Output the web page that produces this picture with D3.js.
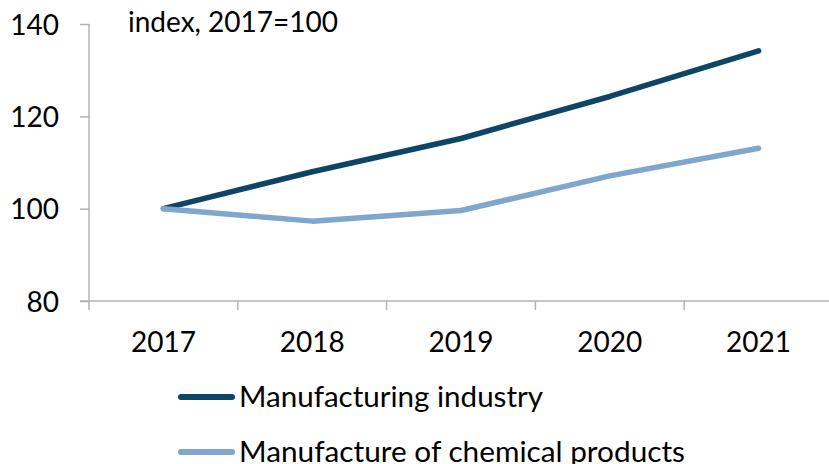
<!DOCTYPE html>
<html>
<head>
<meta charset="utf-8">
<script src="https://cdn.jsdelivr.net/npm/d3@7"></script>
<style>
  body { margin: 0; background: #fff; }
  text { font-family: Lato, "Open Sans", sans-serif; fill: #000; }
</style>
</head>
<body>
<script>
// date grafic
const years = ["2017", "2018", "2019", "2020", "2021"];
const manufacturing = [100, 108.0, 115.2, 124.3, 134.2];
const chemical = [100, 97.3, 99.6, 107.1, 113.1];
const yTicks = [80, 100, 120, 140];
const seriesNames = ["Manufacturing industry", "Manufacture of chemical products"];
const seriesColors = ["#0e4466", "#7fa6cc"];

const width = 829, height = 464;
const svg = d3.select("body").append("svg")
  .attr("width", width)
  .attr("height", height);

// scale
const x = d3.scaleBand().domain(years).range([89, 89 + 148.8 * 5]);
const y = d3.scaleLinear().domain([80, 140]).range([301, 24]);

// axa Y
const yAxis = svg.append("g")
  .attr("transform", "translate(89,0)")
  .call(d3.axisLeft(y).tickValues(yTicks).tickSize(9).tickPadding(21).tickFormat(d3.format("d")));
yAxis.select(".domain").attr("stroke", "#b3b3b3").attr("stroke-width", 1.5).attr("d", "M0,24V301");
yAxis.selectAll(".tick line").attr("stroke", "#b3b3b3").attr("stroke-width", 1.5);
yAxis.selectAll(".tick text").style("font-size", "28px").attr("dy", "0.36em");

// axa X
const xAxis = svg.append("g")
  .attr("transform", "translate(0,301)");
xAxis.append("line")
  .attr("x1", 80).attr("x2", width)
  .attr("stroke", "#b3b3b3").attr("stroke-width", 1.5);
xAxis.selectAll("line.tk")
  .data(years)
  .enter().append("line")
  .attr("class", "tk")
  .attr("x1", d => x(d)).attr("x2", d => x(d))
  .attr("y1", 0).attr("y2", 9)
  .attr("stroke", "#b3b3b3").attr("stroke-width", 1.5);
xAxis.selectAll("text")
  .data(years)
  .enter().append("text")
  .attr("x", d => x(d) + x.bandwidth() / 2)
  .attr("y", 51)
  .attr("text-anchor", "middle")
  .style("font-size", "28px")
  .text(d => d);

// titlu unitate
svg.append("text")
  .attr("x", 128).attr("y", 32)
  .style("font-size", "28px")
  .text("index, 2017=100");

// linii
const line = d3.line()
  .x((d, i) => x(years[i]) + x.bandwidth() / 2)
  .y(d => y(d));

[manufacturing, chemical].forEach((s, i) => {
  svg.append("path")
    .datum(s)
    .attr("d", line)
    .attr("fill", "none")
    .attr("stroke", seriesColors[i])
    .attr("stroke-width", 5.5)
    .attr("stroke-linecap", "round")
    .attr("stroke-linejoin", "round");
});

// legenda
const legendWidths = [304, 446];
const legend = svg.selectAll("g.leg")
  .data(seriesNames)
  .enter().append("g")
  .attr("class", "leg")
  .attr("transform", (d, i) => `translate(0,${397 + i * 55})`);
legend.append("line")
  .attr("x1", 181).attr("x2", 232)
  .attr("stroke", (d, i) => seriesColors[i])
  .attr("stroke-width", 6)
  .attr("stroke-linecap", "round");
legend.append("text")
  .attr("x", 239).attr("y", 10)
  .attr("textLength", (d, i) => legendWidths[i])
  .attr("lengthAdjust", "spacingAndGlyphs")
  .style("font-size", "28px")
  .text(d => d);
</script>
</body>
</html>
